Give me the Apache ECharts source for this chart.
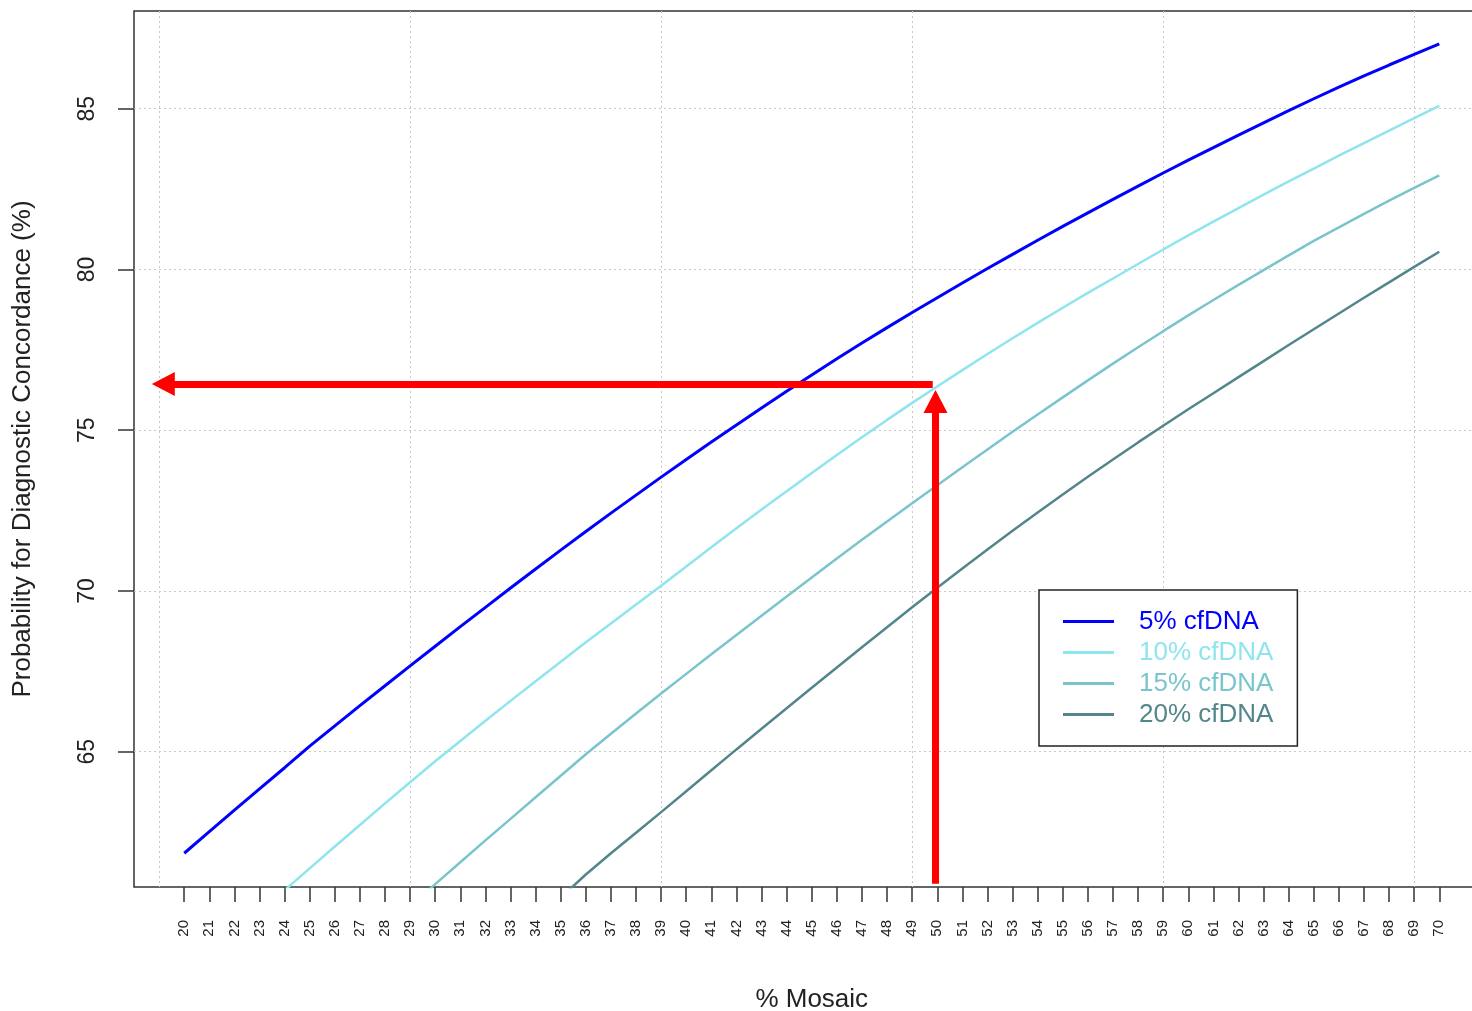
<!DOCTYPE html>
<html><head><meta charset="utf-8">
<script src="https://cdn.jsdelivr.net/npm/echarts@6/dist/echarts.min.js"></script>
<style>html,body{margin:0;padding:0;background:#fff}#c{width:1472px;height:1011px}</style>
</head><body><div id="c"></div>
<script>
// ---------------- data ----------------
const mosaic = [20,21,22,23,24,25,26,27,28,29,30,31,32,33,34,35,36,37,38,39,40,41,42,43,44,45,46,47,48,49,50,51,52,53,54,55,56,57,58,59,60,61,62,63,64,65,66,67,68,69,70];
const xTickLabels = [20,21,22,23,24,25,26,27,28,29,30,31,32,33,34,35,36,37,38,39,40,41,42,43,44,45,46,47,48,49,50,51,52,53,54,55,56,57,58,59,60,61,62,63,64,65,66,67,68,69,70];
const yTickLabels = [65,70,75,80,85];
const vGridAt = [19,29,39,49,59,69];
const seriesNames = ['5% cfDNA','10% cfDNA','15% cfDNA','20% cfDNA'];
const cf5 = [61.84,62.51,63.18,63.84,64.50,65.17,65.80,66.43,67.05,67.67,68.28,68.89,69.49,70.09,70.68,71.27,71.85,72.42,72.98,73.54,74.09,74.63,75.16,75.69,76.21,76.72,77.22,77.71,78.19,78.66,79.12,79.58,80.03,80.47,80.91,81.34,81.76,82.18,82.59,83.00,83.40,83.79,84.18,84.56,84.94,85.31,85.67,86.02,86.36,86.69,87.02];
const cf10 = [null,null,null,null,60.69,61.37,62.05,62.72,63.39,64.05,64.70,65.33,65.96,66.58,67.19,67.80,68.40,68.99,69.58,70.16,70.76,71.36,71.95,72.53,73.10,73.67,74.23,74.78,75.32,75.85,76.36,76.87,77.37,77.86,78.34,78.81,79.27,79.72,80.17,80.62,81.06,81.49,81.91,82.33,82.74,83.14,83.54,83.93,84.32,84.71,85.09];
const cf15 = [null,null,null,null,null,null,null,null,null,60.20,60.88,61.56,62.24,62.91,63.58,64.25,64.92,65.56,66.19,66.81,67.42,68.03,68.63,69.23,69.83,70.42,71.01,71.59,72.16,72.73,73.29,73.85,74.40,74.95,75.49,76.02,76.55,77.07,77.58,78.08,78.57,79.05,79.52,79.98,80.44,80.89,81.31,81.73,82.14,82.54,82.93];
const cf20 = [null,null,null,null,null,null,null,null,null,null,null,null,null,null,null,60.46,61.18,61.84,62.48,63.12,63.77,64.42,65.07,65.71,66.35,66.99,67.62,68.25,68.87,69.49,70.10,70.70,71.29,71.87,72.44,73.00,73.55,74.09,74.62,75.14,75.65,76.15,76.65,77.15,77.65,78.14,78.63,79.12,79.60,80.08,80.55];
const arrowFrom = [[49.82,76.44],[49.93,60.89]];
const arrowTip  = [[18.71,76.44],[49.93,76.25]];

// ---------------- style ----------------
const FONT = "'Liberation Sans', Arial, sans-serif";
const colors = ['#0000FF','#8EE5EE','#7AC5CD','#53868B'];
const widths = [3,2.5,2.5,2.5];
const gridDash = {color:'#c8c8c8', width:1, type:[2,3]};
const values = [cf5, cf10, cf15, cf20];

function pairs(arr){ const out=[]; mosaic.forEach((x,i)=>{ if(arr[i]!=null) out.push([x,arr[i]]); }); return out; }

const lineSeries = seriesNames.map((n,i)=>({
  name:n, type:'line', xAxisIndex:0, yAxisIndex:0,
  data: pairs(values[i]), showSymbol:false, symbol:'none', clip:true,
  lineStyle:{color:colors[i], width:widths[i]}, itemStyle:{color:colors[i]},
  emphasis:{disabled:true}, z:3
}));

const chart = echarts.init(document.getElementById('c'), null, {renderer:'canvas'});
const option = {
  animation:false,
  backgroundColor:'#ffffff',
  textStyle:{fontFamily:FONT},
  grid:{left:134, top:11, right:-17.5, bottom:124, show:true, borderColor:'#333', borderWidth:1.5, outerBoundsMode:'none', containLabel:false},
  xAxis:[{
    type:'value', min:18, max:72, position:'bottom',
    name:'% Mosaic', nameLocation:'middle', nameGap:100,
    nameTextStyle:{fontSize:26, color:'#222', fontFamily:FONT},
    axisLine:{show:false},
    axisTick:{show:true, length:15, customValues:xTickLabels, lineStyle:{color:'#333', width:1.5}},
    axisLabel:{show:true, customValues:xTickLabels, rotate:90, margin:33, fontSize:15, color:'#222', fontFamily:FONT},
    splitLine:{show:false}
  },{
    type:'value', min:18, max:72, position:'top',
    axisLine:{show:false},
    axisTick:{show:false, customValues:vGridAt},
    axisLabel:{show:false, customValues:vGridAt},
    splitLine:{show:true, lineStyle:gridDash}
  }],
  yAxis:[{
    type:'value', min:60.79, max:88.04,
    name:'Probability for Diagnostic Concordance (%)', nameLocation:'middle', nameGap:98, nameRotate:90,
    nameTextStyle:{fontSize:26, color:'#222', fontFamily:FONT},
    axisLine:{show:false},
    axisTick:{show:true, length:16, customValues:yTickLabels, lineStyle:{color:'#333', width:1.5}},
    axisLabel:{show:true, customValues:yTickLabels, rotate:90, margin:35, fontSize:23, color:'#222', fontFamily:FONT},
    splitLine:{show:true, lineStyle:gridDash}
  }],
  legend:{
    orient:'vertical', left:1039, top:590, padding:[16,24,16,24], itemGap:0,
    itemWidth:51, itemHeight:3, icon:'rect', selectedMode:false,
    borderColor:'#222', borderWidth:1.5, borderRadius:0, backgroundColor:'#ffffff',
    textStyle:{fontSize:26, lineHeight:28, padding:[3,0,0,20], fontFamily:FONT},
    data: seriesNames.map((n,i)=>({name:n, textStyle:{color:colors[i]}}))
  },
  series: lineSeries
};
chart.setOption(option);

// arrows: shaft + triangular head, positioned through the chart's own scales
const HEAD_W = 24, HEAD_L = 23;
const finder = {xAxisIndex:0, yAxisIndex:0};
const shafts = [], heads = [];
arrowFrom.forEach((f,i)=>{
  const t = arrowTip[i];
  const pf = chart.convertToPixel(finder, f);
  const pt = chart.convertToPixel(finder, t);
  const dx = pt[0]-pf[0], dy = pt[1]-pf[1];
  const L = Math.hypot(dx,dy);
  const ux = dx/L, uy = dy/L;
  const headCenter = chart.convertFromPixel(finder, [pt[0]-ux*HEAD_L/2, pt[1]-uy*HEAD_L/2]);
  shafts.push({coords:[f, headCenter]});
  const rot = Math.atan2(-ux, -uy)*180/Math.PI;
  heads.push({value:headCenter, symbolRotate:rot});
});
chart.setOption({series: lineSeries.concat([
  {type:'lines', coordinateSystem:'cartesian2d', xAxisIndex:0, yAxisIndex:0, symbol:['none','none'],
   lineStyle:{color:'#FF0000', width:7, opacity:1, cap:'butt'}, data:shafts, z:5, silent:true},
  {type:'scatter', xAxisIndex:0, yAxisIndex:0, symbol:'triangle', symbolSize:[HEAD_W, HEAD_L],
   itemStyle:{color:'#FF0000', opacity:1}, data:heads, z:6, silent:true, clip:false}
])});
</script></body></html>
